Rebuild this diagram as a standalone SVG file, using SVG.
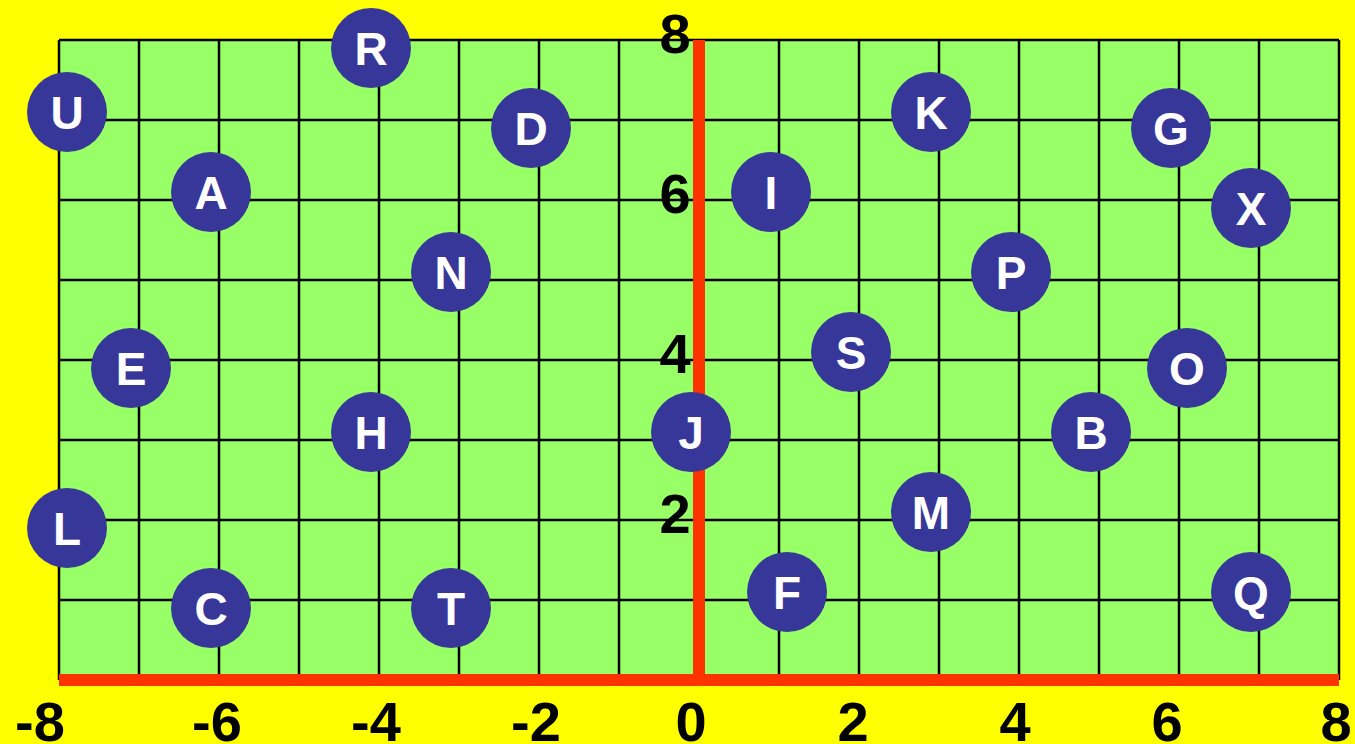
<svg xmlns="http://www.w3.org/2000/svg" width="1355" height="744" viewBox="0 0 1355 744">
<defs>
<style>
.grid line{stroke:#000;stroke-width:2.5}
.axis{fill:#ff3300}
.node circle{fill:#373799}
.node text{fill:#fff;font-family:"Liberation Sans",Arial,sans-serif;font-weight:bold;font-size:46px;text-anchor:middle}
.num{fill:#000;font-family:"Liberation Sans",Arial,sans-serif;font-weight:bold;font-size:56px;text-anchor:middle}
</style>
</defs>
<rect x="0" y="0" width="1355" height="744" fill="#ffff00"/>
<rect x="59" y="40" width="1280" height="640" fill="#99ff66"/>
<g class="grid">
<line x1="59" y1="40" x2="59" y2="680"/><line x1="139" y1="40" x2="139" y2="680"/><line x1="219" y1="40" x2="219" y2="680"/><line x1="299" y1="40" x2="299" y2="680"/><line x1="379" y1="40" x2="379" y2="680"/><line x1="459" y1="40" x2="459" y2="680"/><line x1="539" y1="40" x2="539" y2="680"/><line x1="619" y1="40" x2="619" y2="680"/><line x1="779" y1="40" x2="779" y2="680"/><line x1="859" y1="40" x2="859" y2="680"/><line x1="939" y1="40" x2="939" y2="680"/><line x1="1019" y1="40" x2="1019" y2="680"/><line x1="1099" y1="40" x2="1099" y2="680"/><line x1="1179" y1="40" x2="1179" y2="680"/><line x1="1259" y1="40" x2="1259" y2="680"/><line x1="1339" y1="40" x2="1339" y2="680"/>
<line x1="59" y1="40" x2="1339" y2="40"/><line x1="59" y1="120" x2="1339" y2="120"/><line x1="59" y1="200" x2="1339" y2="200"/><line x1="59" y1="280" x2="1339" y2="280"/><line x1="59" y1="360" x2="1339" y2="360"/><line x1="59" y1="440" x2="1339" y2="440"/><line x1="59" y1="520" x2="1339" y2="520"/><line x1="59" y1="600" x2="1339" y2="600"/>
</g>
<g id="connectors">
<rect class="axis" x="693" y="40" width="12" height="640"/>
<rect class="axis" x="59" y="674" width="1280" height="12"/>
</g>
<g id="y-labels">
<text class="num" x="675" y="53">8</text>
<text class="num" x="675" y="213">6</text>
<text class="num" x="675" y="373">4</text>
<text class="num" x="675" y="533">2</text>
</g>
<g id="x-labels">
<text class="num" x="40" y="741">-8</text>
<text class="num" x="217" y="741">-6</text>
<text class="num" x="376" y="741">-4</text>
<text class="num" x="536" y="741">-2</text>
<text class="num" x="691" y="741">0</text>
<text class="num" x="853" y="741">2</text>
<text class="num" x="1015" y="741">4</text>
<text class="num" x="1167" y="741">6</text>
<text class="num" x="1336" y="741">8</text>
</g>
<g id="R" class="node"><circle cx="371" cy="48" r="40"/><text x="371" y="65">R</text></g>
<g id="U" class="node"><circle cx="67" cy="112" r="40"/><text x="67" y="129">U</text></g>
<g id="D" class="node"><circle cx="531" cy="128" r="40"/><text x="531" y="145">D</text></g>
<g id="K" class="node"><circle cx="931" cy="112" r="40"/><text x="931" y="129">K</text></g>
<g id="G" class="node"><circle cx="1171" cy="128" r="40"/><text x="1171" y="145">G</text></g>
<g id="A" class="node"><circle cx="211" cy="192" r="40"/><text x="211" y="209">A</text></g>
<g id="I" class="node"><circle cx="771" cy="192" r="40"/><text x="771" y="209">I</text></g>
<g id="X" class="node"><circle cx="1251" cy="208" r="40"/><text x="1251" y="225">X</text></g>
<g id="N" class="node"><circle cx="451" cy="272" r="40"/><text x="451" y="289">N</text></g>
<g id="P" class="node"><circle cx="1011" cy="272" r="40"/><text x="1011" y="289">P</text></g>
<g id="E" class="node"><circle cx="131" cy="368" r="40"/><text x="131" y="385">E</text></g>
<g id="S" class="node"><circle cx="851" cy="352" r="40"/><text x="851" y="369">S</text></g>
<g id="O" class="node"><circle cx="1187" cy="368" r="40"/><text x="1187" y="385">O</text></g>
<g id="H" class="node"><circle cx="371" cy="432" r="40"/><text x="371" y="449">H</text></g>
<g id="J" class="node"><circle cx="691" cy="432" r="40"/><text x="691" y="449">J</text></g>
<g id="B" class="node"><circle cx="1091" cy="432" r="40"/><text x="1091" y="449">B</text></g>
<g id="L" class="node"><circle cx="67" cy="528" r="40"/><text x="67" y="545">L</text></g>
<g id="M" class="node"><circle cx="931" cy="512" r="40"/><text x="931" y="529">M</text></g>
<g id="C" class="node"><circle cx="211" cy="608" r="40"/><text x="211" y="625">C</text></g>
<g id="T" class="node"><circle cx="451" cy="608" r="40"/><text x="451" y="625">T</text></g>
<g id="F" class="node"><circle cx="787" cy="592" r="40"/><text x="787" y="609">F</text></g>
<g id="Q" class="node"><circle cx="1251" cy="592" r="40"/><text x="1251" y="609">Q</text></g>
</svg>
